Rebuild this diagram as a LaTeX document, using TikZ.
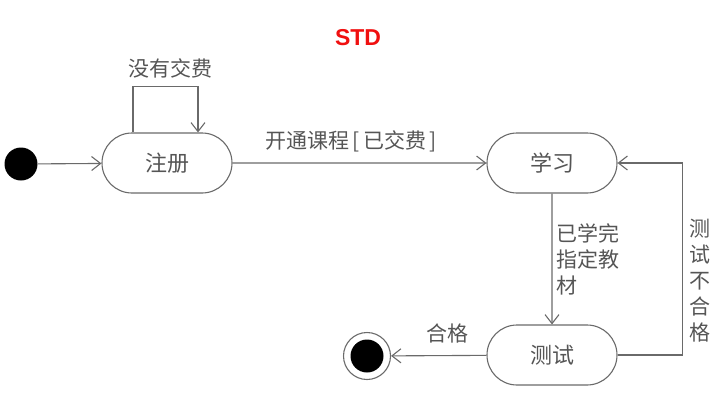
\documentclass[tikz,border=0pt]{standalone}
\usepackage{fontspec}
\setmainfont{Liberation Sans}
\newfontfamily\cjk{Noto Sans CJK SC}
\usetikzlibrary{arrows.meta,shapes.misc}
\definecolor{linec}{HTML}{6A6A6A}
\definecolor{txtc}{HTML}{555555}
\definecolor{titlered}{HTML}{F01010}
\begin{document}
\begin{tikzpicture}[x=1pt,y=-1pt,
  state/.style={rounded rectangle, draw=linec, line width=1.1pt, minimum width=130pt, minimum height=60pt, inner sep=0pt, text=txtc, font=\cjk\fontsize{22}{26}\selectfont},
  arr/.style={draw=linec, line width=1.1pt, -{Straight Barb[length=9pt,width=14pt,line width=1.1pt]}},
  lbl/.style={text=txtc, font=\cjk\fontsize{21}{26}\selectfont, inner sep=0pt}]
\useasboundingbox (0,0) rectangle (717,400);
% title
\node (title) [text=titlered, font=\bfseries\fontsize{23}{23}\selectfont] at (358,38) {STD};
% states
\node[circle, fill=black, minimum size=33pt, inner sep=0pt] (init) at (21,164) {};
\node[state] (reg) at (167,163) {注册};
\node[state] (study) at (552,163) {学习};
\node[state] (test) at (552,355) {测试};
\node[circle, draw=linec, line width=1.1pt, minimum size=47pt, inner sep=0pt] (final) at (367,356) {};
\node[circle, fill=black, minimum size=33pt, inner sep=0pt] (finalin) at (367,356) {};
% transitions
\draw[arr] (init) -- (reg);
\draw[arr] ([xshift=-34pt]reg.north) -- ++(0,-46) -| ([xshift=31pt]reg.north);
\node[lbl] (l1) at (170,68) {没有交费};
\draw[arr] (reg) -- (study);
\node[lbl] (l2) at (351,141) {开通课程\,[\,已交费\,]};
\draw[arr] (study) -- (test);
\node[lbl, anchor=west, align=left] (l3) at (556,259) {已学完\\指定教\\材};
\draw[arr] (test.east) -- ++(65,0) |- (study.east);
\node[lbl, align=center] (l4) at (700,281) {测\\试\\不\\合\\格};
\draw[arr] (test) -- (final);
\node[lbl] (l5) at (447,333) {合格};
\end{tikzpicture}
\end{document}
